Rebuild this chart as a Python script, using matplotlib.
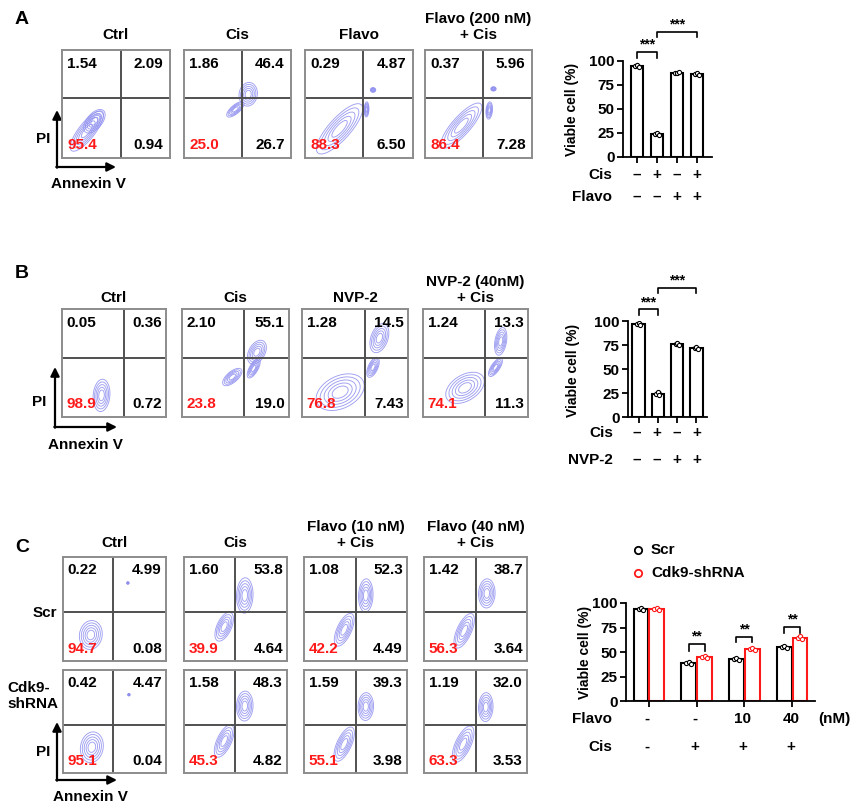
import numpy as np
import matplotlib
matplotlib.use('Agg')
from matplotlib import pyplot as plt

plt.rcParams['font.family'] = ['Liberation Sans', 'DejaVu Sans']
plt.rcParams['font.weight'] = 'bold'

W, H = 853, 805

# ---------------- data ----------------
titles_A = ['Ctrl', 'Cis', 'Flavo', 'Flavo (200 nM)\n+ Cis']
quads_A = [['1.54', '2.09', '95.4', '0.94'],
           ['1.86', '46.4', '25.0', '26.7'],
           ['0.29', '4.87', '88.3', '6.50'],
           ['0.37', '5.96', '86.4', '7.28']]
titles_B = ['Ctrl', 'Cis', 'NVP-2', 'NVP-2 (40nM)\n+ Cis']
quads_B = [['0.05', '0.36', '98.9', '0.72'],
           ['2.10', '55.1', '23.8', '19.0'],
           ['1.28', '14.5', '76.8', '7.43'],
           ['1.24', '13.3', '74.1', '11.3']]
titles_C = ['Ctrl', 'Cis', 'Flavo (10 nM)\n+ Cis', 'Flavo (40 nM)\n+ Cis']
rows_C = ['Scr', 'Cdk9-\nshRNA']
quads_C_scr = [['0.22', '4.99', '94.7', '0.08'],
               ['1.60', '53.8', '39.9', '4.64'],
               ['1.08', '52.3', '42.2', '4.49'],
               ['1.42', '38.7', '56.3', '3.64']]
quads_C_sh = [['0.42', '4.47', '95.1', '0.04'],
              ['1.58', '48.3', '45.3', '4.82'],
              ['1.59', '39.3', '55.1', '3.98'],
              ['1.19', '32.0', '63.3', '3.53']]

# contour populations: (cx, cy, half-major, half-minor, angle) of the outer ring
blobs_A = [[(0.23, 0.25, 0.23, 0.075, 52), (0.3, 0.34, 0.13, 0.07, 50)],
           [(0.6, 0.59, 0.11, 0.085, 80), (0.48, 0.45, 0.1, 0.04, 40)],
           [(0.32, 0.27, 0.3, 0.1, 48), (0.63, 0.63, 0.025, 0.022, 0), (0.57, 0.45, 0.07, 0.022, 88)],
           [(0.34, 0.3, 0.27, 0.085, 48), (0.64, 0.64, 0.025, 0.02, 0), (0.6, 0.44, 0.08, 0.03, 85)]]
blobs_B = [[(0.38, 0.2, 0.15, 0.08, 85)],
           [(0.7, 0.6, 0.12, 0.075, 60), (0.67, 0.45, 0.1, 0.04, 60), (0.47, 0.37, 0.11, 0.05, 40)],
           [(0.36, 0.23, 0.24, 0.15, 25), (0.73, 0.73, 0.14, 0.08, 70), (0.67, 0.46, 0.1, 0.045, 65)],
           [(0.4, 0.27, 0.2, 0.12, 30), (0.74, 0.7, 0.13, 0.055, 80), (0.69, 0.46, 0.1, 0.04, 55)]]
blobs_C_scr = [[(0.27, 0.25, 0.14, 0.11, 80), (0.63, 0.75, 0.012, 0.012, 0)],
               [(0.59, 0.63, 0.17, 0.08, 88), (0.39, 0.33, 0.15, 0.07, 65)],
               [(0.6, 0.63, 0.16, 0.07, 88), (0.39, 0.3, 0.17, 0.07, 65)],
               [(0.61, 0.65, 0.14, 0.08, 88), (0.39, 0.29, 0.18, 0.07, 65)]]
blobs_C_sh = [[(0.28, 0.25, 0.15, 0.11, 80), (0.64, 0.76, 0.012, 0.012, 0)],
              [(0.59, 0.65, 0.145, 0.08, 88), (0.39, 0.31, 0.17, 0.07, 65)],
              [(0.6, 0.645, 0.135, 0.075, 88), (0.39, 0.28, 0.18, 0.07, 65)],
              [(0.6, 0.64, 0.14, 0.07, 88), (0.38, 0.28, 0.19, 0.075, 65)]]

viable_A = [[95, 96, 94], [24, 25, 23], [88, 87, 89], [86, 87, 85]]
viable_B = [[97, 98, 96], [24, 26, 23], [76, 77, 75], [72, 73, 71]]
cis_A = ['–', '+', '–', '+']
flavo_A = ['–', '–', '+', '+']
cis_B = ['–', '+', '–', '+']
nvp_B = ['–', '–', '+', '+']

viable_C_scr = [[94, 95, 93], [39, 40, 38], [43, 44, 42], [55, 56, 54]]
viable_C_sh = [[94, 95, 93], [45, 46, 44], [53, 54, 52], [64, 66, 63]]
flavo_C = ['-', '-', '10', '40']
cis_C = ['-', '+', '+', '+']

BLUE = '#8e8ef0'
RED = '#ff1a1a'

fig = plt.figure(figsize=(W / 100, H / 100), dpi=100)
ov = fig.add_axes([0, 0, 1, 1])
ov.set_xlim(0, W)
ov.set_ylim(H, 0)
ov.axis('off')


def px_axes(x0, y0, x1, y1):
    return fig.add_axes([x0 / W, 1 - y1 / H, (x1 - x0) / W, (y1 - y0) / H])


g = np.linspace(0, 1, 200)
GX, GY = np.meshgrid(g, g)
ring_r = np.array([1.5, 1.25, 1.0, 0.75, 0.5])
levels = np.exp(-0.5 * ring_r ** 2)


def flow_box(ax, quads, blobs, vx, hy, tx=(0.045, 0.96)):
    ax.set_xlim(0, 1)
    ax.set_ylim(0, 1)
    ax.set_xticks([])
    ax.set_yticks([])
    for s in ax.spines.values():
        s.set_color('#8c8c8c')
        s.set_linewidth(1.4)
    for cx, cy, a, b, ang in blobs:
        t = np.deg2rad(ang)
        u = (GX - cx) * np.cos(t) + (GY - cy) * np.sin(t)
        v = -(GX - cx) * np.sin(t) + (GY - cy) * np.cos(t)
        Z = np.exp(-0.5 * ((u / (a / 1.5)) ** 2 + (v / (b / 1.5)) ** 2))
        ax.contour(GX, GY, Z, levels=levels, colors=BLUE, linewidths=0.65, alpha=0.85)
    ax.axvline(vx, color='#505050', lw=1.4)
    ax.axhline(hy, color='#505050', lw=1.4)
    ax.text(tx[0], 0.875, quads[0], ha='left', va='center', fontsize=11, fontweight='bold')
    ax.text(tx[1], 0.875, quads[1], ha='right', va='center', fontsize=11, fontweight='bold')
    ax.text(tx[0], 0.12, quads[2], ha='left', va='center', fontsize=11, fontweight='bold', color=RED)
    ax.text(tx[1], 0.12, quads[3], ha='right', va='center', fontsize=11, fontweight='bold')


def axes_arrows(x, ybot, ytop, xright, pi_xy, ann_xy):
    ov.annotate('', xy=(x, ytop), xytext=(x, ybot + 0.7),
                arrowprops=dict(arrowstyle='-|>', lw=1.6, color='k', shrinkA=0, shrinkB=0, mutation_scale=13))
    ov.annotate('', xy=(xright, ybot), xytext=(x - 0.7, ybot),
                arrowprops=dict(arrowstyle='-|>', lw=1.6, color='k', shrinkA=0, shrinkB=0, mutation_scale=13))
    ov.text(pi_xy[0], pi_xy[1], 'PI', ha='center', va='center', fontsize=11, fontweight='bold')
    ov.text(ann_xy[0], ann_xy[1], 'Annexin V', ha='center', va='center', fontsize=11, fontweight='bold')


def style_bar_axes(ax, xlim):
    ax.set_xlim(*xlim)
    ax.set_ylim(0, 100)
    for s in ['top', 'right']:
        ax.spines[s].set_visible(False)
    for s in ['left', 'bottom']:
        ax.spines[s].set_linewidth(1.3)
    ax.set_yticks([0, 25, 50, 75, 100])
    ax.tick_params(axis='y', labelsize=11, width=1.3, length=4, pad=2)
    ax.tick_params(axis='x', width=1.3, length=4)
    ax.set_xticklabels([])
    for lab in ax.get_yticklabels():
        lab.set_fontweight('bold')
    ax.patch.set_alpha(0)


def bracket(ax, x0, x1, y, l0, l1, label):
    ax.plot([x0, x0, x1, x1], [l0, y, y, l1], color='k', lw=1.2, clip_on=False)
    ax.text((x0 + x1) / 2, y + 0.5, label, ha='center', va='bottom', fontsize=10,
            fontweight='bold', clip_on=False)


rng = [-0.08, 0.0, 0.08]


def single_bars(ax, reps):
    pos = np.arange(len(reps))
    means = [np.mean(r) for r in reps]
    sds = [np.std(r) for r in reps]
    ax.bar(pos, means, width=0.64, color='white', edgecolor='k', linewidth=1.5, zorder=2)
    ax.errorbar(pos, means, yerr=sds, fmt='none', ecolor='k', elinewidth=1, capsize=2, zorder=3)
    for p, r in zip(pos, reps):
        ax.scatter([p + d for d in rng], r, s=9, facecolor='white', edgecolor='k', lw=0.8, zorder=4)
    ax.set_xticks(pos)


# ---------------- panel A ----------------
ov.text(15, 19, 'A', ha='left', va='center', fontsize=14, fontweight='bold')
xs_A = [(62, 170), (184, 291), (305, 413), (425, 532)]
vx_A = [0.55, 0.54, 0.54, 0.54]
for i, (x0, x1) in enumerate(xs_A):
    ax = px_axes(x0, 50, x1, 158)
    flow_box(ax, quads_A[i], blobs_A[i], vx_A[i], 0.555, tx=(0.05, 0.94))
    ov.text((x0 + x1) / 2, 42, titles_A[i], ha='center', va='bottom', fontsize=11,
            fontweight='bold', linespacing=1.15)
axes_arrows(57, 167, 110, 116, (43, 139), (88, 184))

axA = px_axes(623, 61, 712, 157)
single_bars(axA, viable_A)
style_bar_axes(axA, (-0.7, 3.75))
bracket(axA, 0, 1, 109, 103, 103, '***')
bracket(axA, 1, 3, 130, 125, 125, '***')
ov.text(572, 109, 'Viable cell (%)', rotation=90, ha='center', va='center', fontsize=10, fontweight='bold')
ov.text(612, 175, 'Cis', ha='right', va='center', fontsize=11, fontweight='bold')
ov.text(612, 197, 'Flavo', ha='right', va='center', fontsize=11, fontweight='bold')
for i in range(4):
    xp = 637 + 20 * i
    ov.text(xp, 175, cis_A[i], ha='center', va='center', fontsize=11, fontweight='bold')
    ov.text(xp, 197, flavo_A[i], ha='center', va='center', fontsize=11, fontweight='bold')

# ---------------- panel B ----------------
ov.text(15, 273, 'B', ha='left', va='center', fontsize=14, fontweight='bold')
xs_B = [(62, 166), (182, 289), (302, 408), (423, 528)]
vx_B = [0.6, 0.58, 0.59, 0.59]
for i, (x0, x1) in enumerate(xs_B):
    ax = px_axes(x0, 309, x1, 417)
    flow_box(ax, quads_B[i], blobs_B[i], vx_B[i], 0.55)
    ov.text((x0 + x1) / 2, 305, titles_B[i], ha='center', va='bottom', fontsize=11,
            fontweight='bold', linespacing=1.15)
axes_arrows(55, 427, 367, 117, (39, 402), (85, 445))

axB = px_axes(628, 321, 707, 417)
single_bars(axB, viable_B)
style_bar_axes(axB, (-0.55, 3.55))
bracket(axB, 0, 1, 112, 106, 106, '***')
bracket(axB, 1, 3, 134, 129, 129, '***')
ov.text(573, 370, 'Viable cell (%)', rotation=90, ha='center', va='center', fontsize=10, fontweight='bold')
ov.text(613, 433, 'Cis', ha='right', va='center', fontsize=11, fontweight='bold')
ov.text(613, 460, 'NVP-2', ha='right', va='center', fontsize=11, fontweight='bold')
for i in range(4):
    xp = 637 + 20 * i
    ov.text(xp, 433, cis_B[i], ha='center', va='center', fontsize=11, fontweight='bold')
    ov.text(xp, 460, nvp_B[i], ha='center', va='center', fontsize=11, fontweight='bold')

# ---------------- panel C ----------------
ov.text(15, 547, 'C', ha='left', va='center', fontsize=14, fontweight='bold')
xs_C = [(63, 166), (184, 287), (304, 407), (424, 527)]
vx_C = [0.49, 0.5, 0.5, 0.5]
for i, (x0, x1) in enumerate(xs_C):
    ax = px_axes(x0, 557, x1, 661)
    flow_box(ax, quads_C_scr[i], blobs_C_scr[i], vx_C[i], 0.47)
    ax = px_axes(x0, 670, x1, 773)
    flow_box(ax, quads_C_sh[i], blobs_C_sh[i], vx_C[i], 0.47)
    ov.text((x0 + x1) / 2, 550, titles_C[i], ha='center', va='bottom', fontsize=11,
            fontweight='bold', linespacing=1.15)
ov.text(57, 613, rows_C[0], ha='right', va='center', fontsize=11, fontweight='bold')
ov.text(7, 696, rows_C[1], ha='left', va='center', fontsize=11, fontweight='bold', linespacing=1.2)
axes_arrows(57, 780, 722, 117, (43, 752), (90, 797))

axC = px_axes(626, 603, 815, 701)
pos = np.arange(4)
for reps, off, col in [(viable_C_scr, -0.165, 'k'), (viable_C_sh, 0.165, RED)]:
    means = [np.mean(r) for r in reps]
    sds = [np.std(r) for r in reps]
    axC.bar(pos + off, means, width=0.31, color='white', edgecolor=col, linewidth=1.5, zorder=2)
    axC.errorbar(pos + off, means, yerr=sds, fmt='none', ecolor=col, elinewidth=1, capsize=2, zorder=3)
    for p, r in zip(pos, reps):
        axC.scatter([p + off + d * 0.6 for d in rng], r, s=9, facecolor='white', edgecolor=col,
                    lw=0.8, zorder=4)
axC.set_xticks(pos)
style_bar_axes(axC, (-0.48, 3.48))
bracket(axC, 1 - 0.165, 1 + 0.165, 58, 51, 51, '**')
bracket(axC, 2 - 0.165, 2 + 0.165, 65, 60, 60, '**')
bracket(axC, 3 - 0.165, 3 + 0.165, 75.5, 69, 69, '**')
ov.text(585, 652, 'Viable cell (%)', rotation=90, ha='center', va='center', fontsize=10, fontweight='bold')
ov.text(572, 719, 'Flavo', ha='left', va='center', fontsize=11, fontweight='bold')
ov.text(612, 747, 'Cis', ha='right', va='center', fontsize=11, fontweight='bold')
for i in range(4):
    xp = 647 + 48 * i
    ov.text(xp, 719, flavo_C[i], ha='center', va='center', fontsize=11, fontweight='bold')
    ov.text(xp, 747, cis_C[i], ha='center', va='center', fontsize=11, fontweight='bold')
ov.text(818, 719, '(nM)', ha='left', va='center', fontsize=11, fontweight='bold')

# legend
ov.scatter([638], [550], s=28, facecolor='white', edgecolor='k', lw=1.3)
ov.text(651, 550, 'Scr', ha='left', va='center', fontsize=11, fontweight='bold')
ov.scatter([638], [573], s=28, facecolor='white', edgecolor=RED, lw=1.3)
ov.text(651, 573, 'Cdk9-shRNA', ha='left', va='center', fontsize=11, fontweight='bold')

fig.savefig('out.png', dpi=100)
